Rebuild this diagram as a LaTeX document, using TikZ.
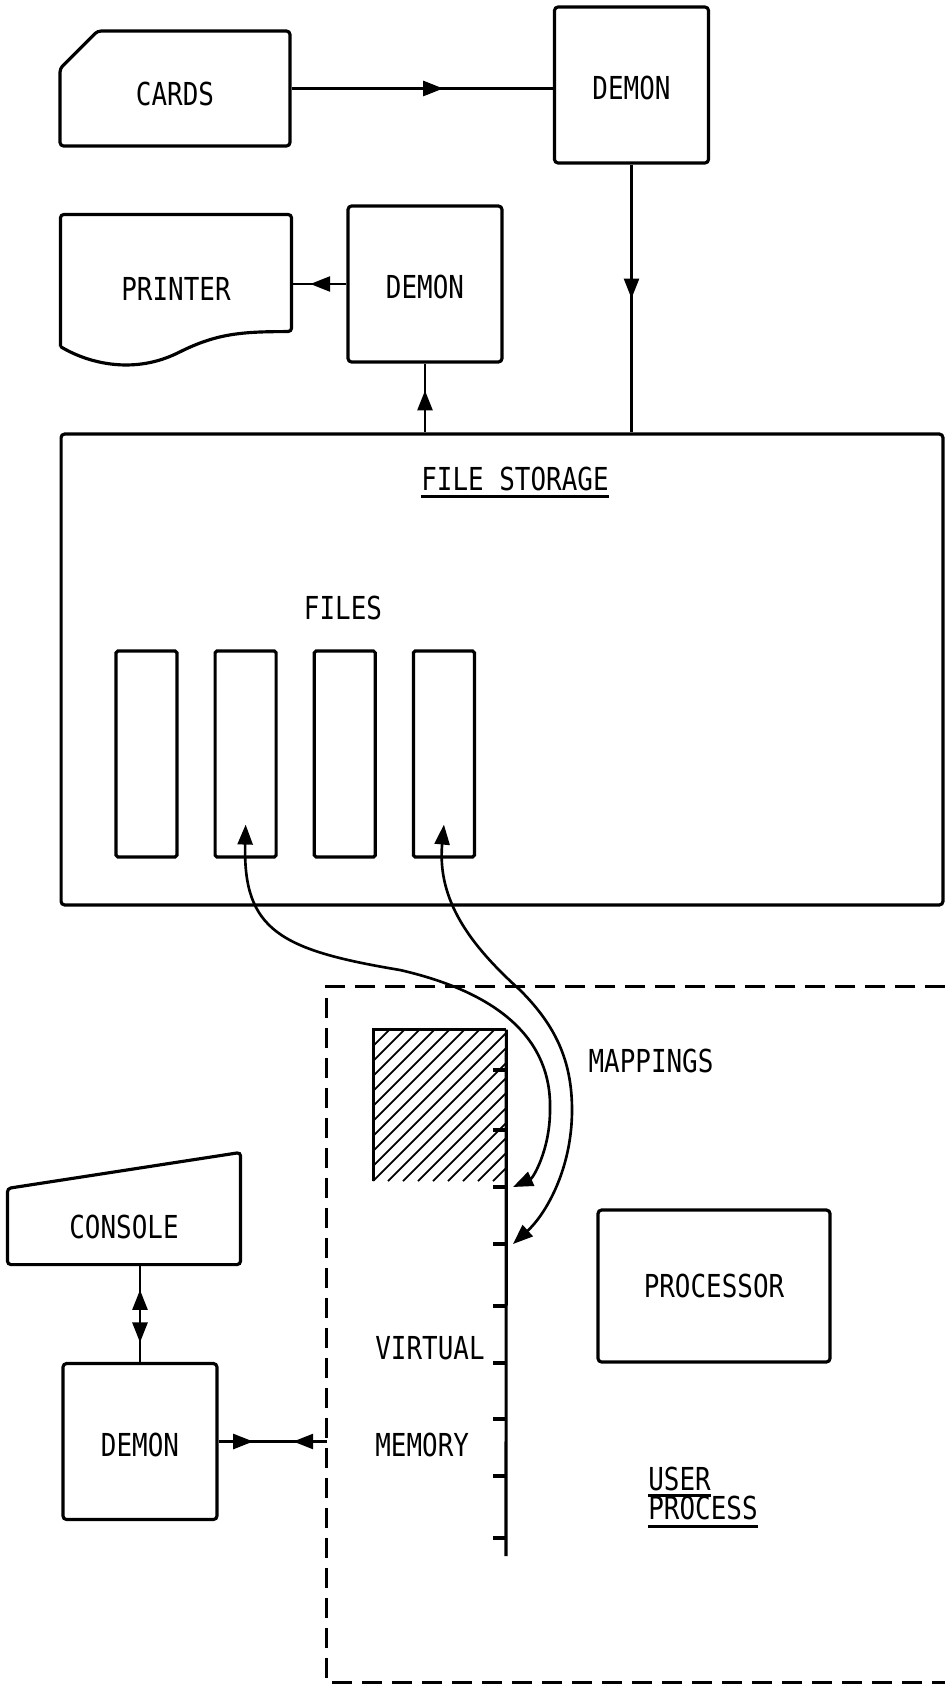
\documentclass[tikz,border=0pt]{standalone}
\usepackage{fontspec}
\newfontfamily\typefont{DejaVu Sans Mono}[FakeStretch=0.82]
\usetikzlibrary{positioning,arrows.meta,shapes.misc,decorations.markings}

\begin{document}
\begin{tikzpicture}[x=0.02cm,y=-0.02cm,
	>={Triangle[length=4mm,width=3mm]},
	unit/.style={
		% The shape:
		rectangle,
		rounded corners=2pt,
		% The border:
		draw,
		line width=1.8pt,
		inner sep=0pt,
		% Font
		font=\typefont\fontsize{18}{21}\selectfont
		},
	demon/.style={unit, minimum width=3.08cm, minimum height=3.12cm, text height=0.6cm, text depth=0pt},
	filebox/.style={unit, rounded corners=1pt, minimum width=1.22cm, minimum height=4.12cm},
	lettering/.style={inner sep=0pt, font=\typefont\fontsize{18}{21}\selectfont},
	outline/.style={line width=1.8pt, rounded corners=2pt},
	link/.style={line width=1.5pt},
	uline/.style={line width=1.8pt},
	tickmark/.style={line width=1.8pt},
	hatch/.style={line width=1pt},
	userline/.style={line width=1.7pt, dash pattern=on 0.4cm off 0.2cm},
	midarrow/.style={postaction={decorate,
		decoration={markings, mark=at position #1 with {\arrow{>}}}}},
	midarrow/.default=0.5,
	backarrow/.style={postaction={decorate,
		decoration={markings, mark=at position #1 with {\arrowreversed{>}}}}}
	]

	\useasboundingbox (0,0) rectangle (945,1686);

	% devices and demons
	\node (cards) [unit, chamfered rectangle, chamfered rectangle corners=north west,
		chamfered rectangle xsep=0.4cm, chamfered rectangle ysep=0.4cm,
		minimum width=4.6cm, minimum height=2.3cm, text height=0.7cm, text depth=0pt] at (175,88.5) {CARDS};
	\node (demonA) [demon] at (631.5,85) {DEMON};
	\node (printer) [unit, draw=none, minimum width=4.56cm, minimum height=2.58cm,
		text height=0.82cm, text depth=0pt] at (176,280.5) {PRINTER};
	\draw[outline] (printer.south west) -- (printer.north west) -- (printer.north east)
		-- ([yshift=0.3cm]printer.south east)
		.. controls +(-50,0) and +(40,-20) .. ++(-115,22)
		.. controls +(-45,20) and +(28,17) .. (printer.south west);
	\node (demonB) [demon] at (425,284) {DEMON};

	% file storage
	\node (storage) [unit, minimum width=17.64cm, minimum height=9.42cm] at (502,669.5) {};
	\node (fstore) [lettering] at (515,478.5) {FILE STORAGE};
	\draw[uline] ([yshift=-0.12cm]fstore.south west) -- ([yshift=-0.12cm]fstore.south east);
	\node (files) [lettering] at (343,608) {FILES};
	\node (file1) [filebox] at (146.5,754) {};
	\node (file2) [filebox, right=0.7cm of file1] {};
	\node (file3) [filebox, right=0.7cm of file2] {};
	\node (file4) [filebox, right=0.7cm of file3] {};

	% user process
	\node (userproc) [minimum width=12.36cm, minimum height=13.9cm] at (636,1334.5) {};
	\draw[userline] (userproc.north east) -- (userproc.north west) -- (userproc.south west) -- (userproc.south east);
	\node (vmpage) [minimum width=2.64cm, minimum height=3.02cm] at (440,1105.5) {};
	\begin{scope}
		\clip (vmpage.south west) rectangle (vmpage.north east);
		\foreach \hx in {223,238,...,520}
			\draw[hatch] (\hx,1181) -- ++(151,-151);
	\end{scope}
	\draw[outline, rounded corners=0pt] (vmpage.south west) -- (vmpage.north west) -- (vmpage.north east);
	\coordinate (vmend) at (506,1556);
	\draw[line width=1.8pt] (vmpage.north east) -- (vmend);
	\foreach \ty [count=\k] in {1070,1130,1187,1244,1306,1363,1419,1476,1538} {
		\coordinate (tick\k) at (506,\ty);
		\draw[tickmark] (tick\k) -- ++(-13,0);
	}
	\node (mappings) [lettering] at (651,1061) {MAPPINGS};
	\node (processor) [unit, minimum width=4.64cm, minimum height=3.04cm] at (714,1286) {PROCESSOR};
	\node (virtual) [lettering, anchor=west] at (375,1348) {VIRTUAL};
	\node (memory) [lettering, anchor=west] at (375,1445) {MEMORY};
	\node (user) [lettering, anchor=west] at (648,1479) {USER};
	\node (process) [lettering, anchor=west] at (648,1508) {PROCESS};
	\draw[uline] ([yshift=-0.08cm]user.south west) -- ([yshift=-0.08cm]user.south east);
	\draw[uline] ([yshift=-0.12cm]process.south west) -- ([yshift=-0.12cm]process.south east);

	% console
	\node (console) [unit, draw=none, minimum width=4.6cm, minimum height=1.46cm] at (124,1226.5) {CONSOLE};
	\draw[outline] (console.south west) -- (console.north west) -- ([yshift=0.72cm]console.north east)
		-- (console.south east) -- cycle;
	\node (demonC) [demon] at (140,1441.5) {DEMON};

	% connectors
	\path (cards.east) edge[link, midarrow=0.58] (cards -| demonA.west);
	\path (demonA.south) edge[link, midarrow] (demonA |- storage.north);
	\path (demonB |- storage.north) edge[link, midarrow=0.61] (demonB.south);
	\path (demonB.west) edge[link, midarrow=0.66] (demonB -| printer.east);
	\path (demonC |- console.south) edge[link, backarrow=0.26, midarrow=0.8] (demonC.north);
	\path (demonC.east) edge[link, midarrow=0.32, backarrow=0.69] (demonC -| userproc.west);

	% mappings
	\draw[link, <->] ([yshift=0.68cm]file2.south) .. controls (243,930) and (280,950) .. (400,970)
		.. controls (500,993) and (552,1040) .. (550,1110)
		.. controls (550,1150) and (533,1178) .. ([xshift=0.14cm]tick3);
	\draw[link, <->] ([yshift=0.68cm]file4.south) .. controls (437,900) and (470,945) .. (520,990)
		.. controls (555,1025) and (572,1060) .. (572,1110)
		.. controls (572,1170) and (545,1215) .. ([xshift=0.14cm]tick4);

\end{tikzpicture}
\end{document}
